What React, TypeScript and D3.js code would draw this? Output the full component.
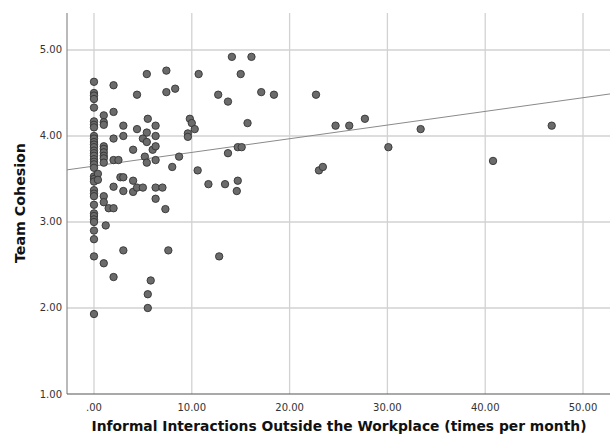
import React from "react";
import * as d3 from "d3";

// Informal interactions outside the workplace (times per month)
const interactions = [
  0, 0, 0, 0, 0, 0, 0, 0, 0, 0, 0, 0, 0, 0, 0, 0, 0, 0, 0, 0, 0, 0, 0, 0, 0, 0, 0, 0, 0, 0, 0, 0, 0, 0, 0,
  0.4, 0.4,
  1, 1, 1, 1, 1, 1, 1, 1, 1, 1, 1, 1,
  1.2, 1.5,
  2, 2, 2, 2, 2, 2, 2,
  2.5, 2.7,
  3, 3, 3, 3, 3,
  4, 4, 4,
  4.4, 4.4, 4.4,
  5, 5, 5.2,
  5.4, 5.4, 5.4, 5.4,
  5.5, 5.5, 5.5, 5.8, 6,
  6.3, 6.3, 6.3, 6.3, 6.3, 6.3,
  7, 7.3, 7.4, 7.4, 7.6, 8, 8.3, 8.7,
  9.6, 9.6, 9.8, 10, 10.3, 10.6, 10.7,
  11.7, 12.7, 12.8, 13.4, 13.7, 13.7, 14.1, 14.6, 14.7, 14.7, 15, 15.1, 15.7, 16.1, 17.1, 18.4,
  22.7, 23, 23.4, 24.7, 26.1, 27.7, 30.1, 33.4, 40.8, 46.8,
];

// Team cohesion score
const cohesion = [
  4.63, 4.5, 4.47, 4.43, 4.33, 4.17, 4.13, 4.1, 4.0, 3.97, 3.93, 3.9, 3.87, 3.83, 3.8, 3.77, 3.73, 3.7, 3.67, 3.63,
  3.53, 3.5, 3.47, 3.37, 3.33, 3.3, 3.2, 3.1, 3.07, 3.03, 3.0, 2.9, 2.8, 2.6, 1.93,
  3.56, 3.49,
  4.24, 4.16, 4.13, 3.88, 3.85, 3.81, 3.77, 3.74, 3.69, 3.3, 3.23, 2.52,
  2.96, 3.16,
  4.59, 4.28, 3.97, 3.72, 3.41, 3.16, 2.36,
  3.72, 3.52,
  4.12, 4.0, 3.52, 3.36, 2.67,
  3.84, 3.48, 3.35,
  4.48, 4.08, 3.4,
  3.97, 3.4, 3.76,
  4.72, 4.04, 3.93, 3.69,
  4.2, 2.16, 2.0, 2.32, 3.84,
  4.12, 4.0, 3.88, 3.72, 3.4, 3.27,
  3.4, 3.15, 4.76, 4.51, 2.67, 3.64, 4.55, 3.76,
  4.03, 3.99, 4.2, 4.15, 4.08, 3.6, 4.72,
  3.44, 4.48, 2.6, 3.44, 4.4, 3.8, 4.92, 3.36, 3.48, 3.87, 4.72, 3.87, 4.15, 4.92, 4.51, 4.48,
  4.48, 3.6, 3.64, 4.12, 4.12, 4.2, 3.87, 4.08, 3.71, 4.12,
];

const xTicks = [0, 10, 20, 30, 40, 50];
const yTicks = [1, 2, 3, 4, 5];

// linear fit line
const fitIntercept = 3.65;
const fitSlope = 0.0159;

const W = 613;
const H = 440;
const left = 67;
const right = 610;
const top = 13;
const bottom = 394;

const fmt = (v: number) => (v === 0 ? ".00" : d3.format(".2f")(v));

export default function App() {
  const x = d3.scaleLinear().domain([-2.76, 52.76]).range([left, right]);
  const y = d3.scaleLinear().domain([1, 5.43]).range([bottom, top]);
  const points = d3.zip(interactions, cohesion);
  const fitLine = d3
    .line<number>()
    .x((d) => x(d))
    .y((d) => y(fitIntercept + fitSlope * d));

  return (
    <svg
      width={W}
      height={H}
      style={{ position: "absolute", left: 0, top: 0, background: "#fff" }}
      fontFamily="DejaVu Sans, sans-serif"
    >
      {/* grid */}
      {yTicks.slice(1).map((t) => (
        <line key={"gy" + t} x1={left} x2={right} y1={y(t)} y2={y(t)} stroke="#d2d2d2" strokeWidth={1.3} />
      ))}
      {xTicks.map((t) => (
        <line key={"gx" + t} x1={x(t)} x2={x(t)} y1={top} y2={bottom} stroke="#d2d2d2" strokeWidth={1.3} />
      ))}

      {/* axes */}
      <line x1={left} x2={left} y1={top} y2={bottom} stroke="#8c8c8c" strokeWidth={1.2} />
      <line x1={left} x2={right} y1={bottom} y2={bottom} stroke="#555" strokeWidth={1.2} />

      {/* tick labels */}
      {yTicks.map((t) => (
        <text key={"ty" + t} x={left - 5} y={y(t)} dy="0.35em" textAnchor="end" fontSize={10} fill="#333">
          {fmt(t)}
        </text>
      ))}
      {xTicks.map((t) => (
        <text key={"tx" + t} x={x(t)} y={bottom + 13} dy="0.35em" textAnchor="middle" fontSize={10} fill="#333">
          {fmt(t)}
        </text>
      ))}

      {/* fit line */}
      <path d={fitLine(x.domain()) ?? ""} fill="none" stroke="#8a8a8a" strokeWidth={1} />

      {/* points */}
      {points.map(([px, py], i) => (
        <circle key={i} cx={x(px)} cy={y(py)} r={3.7} fill="#6b6b6b" stroke="#333" strokeWidth={0.9} />
      ))}

      {/* titles */}
      <text
        x={339}
        y={431}
        textAnchor="middle"
        fontSize={14}
        fontWeight="bold"
        fill="#111"
        textLength={495}
        lengthAdjust="spacingAndGlyphs"
      >
        Informal Interactions Outside the Workplace (times per month)
      </text>
      <text
        transform={`translate(25, 203) rotate(-90)`}
        textAnchor="middle"
        fontSize={14}
        fontWeight="bold"
        fill="#111"
        textLength={120}
        lengthAdjust="spacingAndGlyphs"
      >
        Team Cohesion
      </text>
    </svg>
  );
}
